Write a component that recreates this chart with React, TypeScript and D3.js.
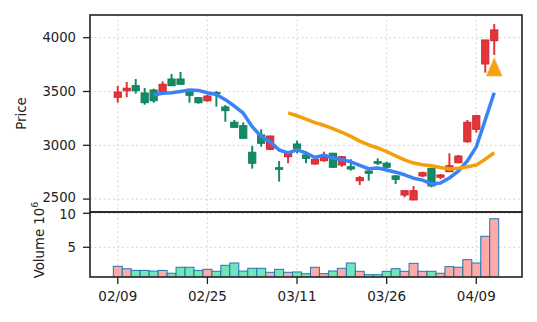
import React from 'react';
import * as d3 from 'd3';

const tickIndex = [0, 10, 20, 30, 40];
const tickLabels = ['02/09', '02/25', '03/11', '03/26', '04/09'];

const opens = [3446, 3507, 3554, 3486, 3514, 3498, 3616, 3616, 3495, 3442, 3414, 3490, 3356, 3214, 3182, 2935, 3096, 2963, 2792, 2894, 3012, 2910, 2826, 2857, 2926, 2817, 2801, 2671, 2761, 2848, 2833, 2715, 2538, 2492, 2715, 2786, 2703, 2755, 2838, 3033, 3149, 3756, 3972];
const highs = [3551, 3588, 3616, 3533, 3526, 3595, 3663, 3681, 3500, 3445, 3470, 3505, 3375, 3235, 3214, 2994, 3149, 3090, 2854, 2935, 3043, 2926, 2875, 2941, 2930, 2900, 2870, 2715, 2765, 2879, 2848, 2724, 2580, 2622, 2755, 2790, 2733, 2926, 2910, 3235, 3282, 3979, 4127];
const lows = [3396, 3446, 3480, 3377, 3396, 3490, 3554, 3567, 3396, 3387, 3405, 3359, 3219, 3167, 3065, 2783, 2987, 2955, 2662, 2833, 2926, 2833, 2820, 2848, 2790, 2801, 2764, 2631, 2671, 2817, 2787, 2640, 2517, 2490, 2703, 2610, 2684, 2755, 2833, 3024, 3117, 3675, 3839];
const closes = [3495, 3530, 3507, 3396, 3414, 3567, 3554, 3567, 3465, 3396, 3458, 3480, 3322, 3167, 3065, 2833, 3019, 3086, 2777, 2931, 2972, 2879, 2870, 2894, 2796, 2894, 2780, 2699, 2740, 2833, 2796, 2684, 2578, 2578, 2745, 2622, 2724, 2810, 2900, 3214, 3275, 3979, 4072];
// volume in millions
const volumes = [2.2, 1.85, 1.6, 1.6, 1.5, 1.6, 1.18, 2.06, 2.06, 1.6, 1.76, 1.47, 2.35, 2.69, 1.5, 1.91, 1.91, 1.32, 1.76, 1.32, 1.37, 1.12, 2.06, 1.12, 1.51, 1.91, 2.69, 1.47, 0.97, 0.97, 1.47, 1.85, 1.47, 2.64, 1.47, 1.47, 1.18, 2.15, 2.06, 3.18, 2.69, 6.62, 9.2];

// short moving average line, first point at index 4
const maShortStart = 4;
const maShort = [3468, 3483, 3488, 3500, 3513, 3510, 3488, 3473, 3424, 3365, 3298, 3173, 3081, 3034, 2956, 2929, 2957, 2929, 2886, 2909, 2882, 2867, 2847, 2813, 2782, 2789, 2770, 2750, 2726, 2694, 2676, 2641, 2649, 2696, 2760, 2854, 2985, 3236, 3488];
// long moving average line, first point at index 19
const maLongStart = 19;
const maLong = [3301, 3275, 3243, 3211, 3186, 3155, 3121, 3083, 3039, 3003, 2975, 2942, 2902, 2865, 2835, 2819, 2809, 2794, 2780, 2786, 2800, 2816, 2871, 2931];

const signalIndex = [42];
const signalPrice = [3728];

const priceTicks = [2500, 3000, 3500, 4000];
const volTicks = [5, 10];

const FONT = 'DejaVu Sans';
const UP = '#e3343a';
const UP_EDGE = '#d0262c';
const DOWN = '#138c66';
const DOWN_EDGE = '#0f7d5a';
const VOL_UP = '#ffa9a9';
const VOL_DOWN = '#72e6b8';
const VOL_EDGE = '#1f77b4';
const GRID = '#dcdcdc';

export default function App() {
  const L = 90, R = 522, T = 15, MID = 212, B = 277;
  const x = d3.scaleLinear().domain([-3.1, 45.1]).range([L, R]);
  const y = d3.scaleLinear().domain([2380, 4211]).range([MID, T]);
  const yv = d3.scaleLinear().domain([0.63, 10.19]).range([B, MID]);
  const step = x(1) - x(0);
  const bodyW = step * 0.8;
  const n = closes.length;
  const idx = d3.range(n);

  const lineShort = d3.line<number>().x((d, i) => x(i + maShortStart)).y(d => y(d));
  const lineLong = d3.line<number>().x((d, i) => x(i + maLongStart)).y(d => y(d));

  const tick = 7;

  return (
    <svg width={537} height={322} style={{ position: 'absolute', left: 0, top: 0, background: '#fff' }} fontFamily={FONT}>
      <defs>
        <clipPath id="pclip"><rect x={L} y={T} width={R - L} height={MID - T} /></clipPath>
        <clipPath id="vclip"><rect x={L} y={MID} width={R - L} height={B - MID} /></clipPath>
      </defs>
      <rect width={537} height={322} fill="#fff" />
      {/* grid */}
      <g stroke={GRID} strokeWidth={1.2} strokeDasharray="2,2.6">
        {tickIndex.map(t => (
          <line key={'gx' + t} x1={x(t)} x2={x(t)} y1={T} y2={B} />
        ))}
        {priceTicks.map(p => (
          <line key={'gp' + p} x1={L} x2={R} y1={y(p)} y2={y(p)} />
        ))}
        {volTicks.map(v => (
          <line key={'gv' + v} x1={L} x2={R} y1={yv(v)} y2={yv(v)} />
        ))}
      </g>
      {/* volume */}
      <g clipPath="url(#vclip)">
        {idx.map(i => {
          const up = closes[i] >= opens[i];
          return (
            <rect key={'v' + i} x={x(i) - step / 2} width={step} y={yv(volumes[i])} height={yv(0) - yv(volumes[i])}
              fill={up ? VOL_UP : VOL_DOWN} stroke={VOL_EDGE} strokeWidth={1} />
          );
        })}
      </g>
      {/* candles */}
      <g clipPath="url(#pclip)">
        {idx.map(i => {
          const up = closes[i] >= opens[i];
          const top = y(Math.max(opens[i], closes[i]));
          const bot = y(Math.min(opens[i], closes[i]));
          return (
            <g key={'c' + i}>
              <line x1={x(i)} x2={x(i)} y1={y(highs[i])} y2={y(lows[i])} stroke={up ? UP : DOWN} strokeWidth={2} />
              <rect x={x(i) - bodyW / 2} width={bodyW} y={top} height={Math.max(1, bot - top)}
                fill={up ? UP : DOWN} stroke={up ? UP_EDGE : DOWN_EDGE} strokeWidth={1} />
            </g>
          );
        })}
        <path d={lineShort(maShort) || ''} fill="none" stroke="#3b82f6" strokeWidth={3.5} strokeLinejoin="round" />
        <path d={lineLong(maLong) || ''} fill="none" stroke="#f59e0b" strokeWidth={3.5} strokeLinejoin="round" />
        {signalIndex.map((si, k) => {
          const cx = x(si), cy = y(signalPrice[k]);
          return (
            <path key={'s' + k} d={`M${cx},${cy - 9} L${cx + 7.8},${cy + 9} L${cx - 7.8},${cy + 9} Z`}
              fill="#f5a00c" stroke="#f8b84a" strokeWidth={0.8} />
          );
        })}
      </g>
      {/* frames */}
      <rect x={L} y={T} width={R - L} height={MID - T} fill="none" stroke="#222" strokeWidth={1.6} />
      <rect x={L} y={MID} width={R - L} height={B - MID} fill="none" stroke="#222" strokeWidth={1.6} />
      {/* ticks */}
      <g fontSize={13.2} fill="#222">
        {priceTicks.map(p => (
          <g key={'tp' + p}>
            <line x1={L - tick} x2={L} y1={y(p)} y2={y(p)} stroke="#222" strokeWidth={1.3} />
            <text x={L - tick - 7} y={y(p) - (p === 2500 ? 1.2 : 0)} textAnchor="end" dominantBaseline="central">{p}</text>
          </g>
        ))}
        {volTicks.map(v => (
          <g key={'tv' + v}>
            <line x1={L - tick} x2={L} y1={yv(v)} y2={yv(v)} stroke="#222" strokeWidth={1.3} />
            <text x={L - tick - 7} y={yv(v) + (v === 10 ? 1.2 : 0)} textAnchor="end" dominantBaseline="central">{v}</text>
          </g>
        ))}
        {tickIndex.map((t, k) => (
          <g key={'tx' + t}>
            <line x1={x(t)} x2={x(t)} y1={B} y2={B + tick} stroke="#222" strokeWidth={1.3} />
            <text x={x(t)} y={B + tick + 7} textAnchor="middle" dominantBaseline="hanging" fontSize={13.5}>{tickLabels[k]}</text>
          </g>
        ))}
      </g>
      {/* axis labels */}
      <text transform={`translate(26,${(T + MID) / 2}) rotate(-90)`} textAnchor="middle" fontSize={13.3} fill="#222">Price</text>
      <text transform={`translate(44,${240}) rotate(-90)`} textAnchor="middle" fontSize={13.3} fill="#222">
        Volume  10<tspan dy={-6} fontSize={9.5}>6</tspan>
      </text>
    </svg>
  );
}
